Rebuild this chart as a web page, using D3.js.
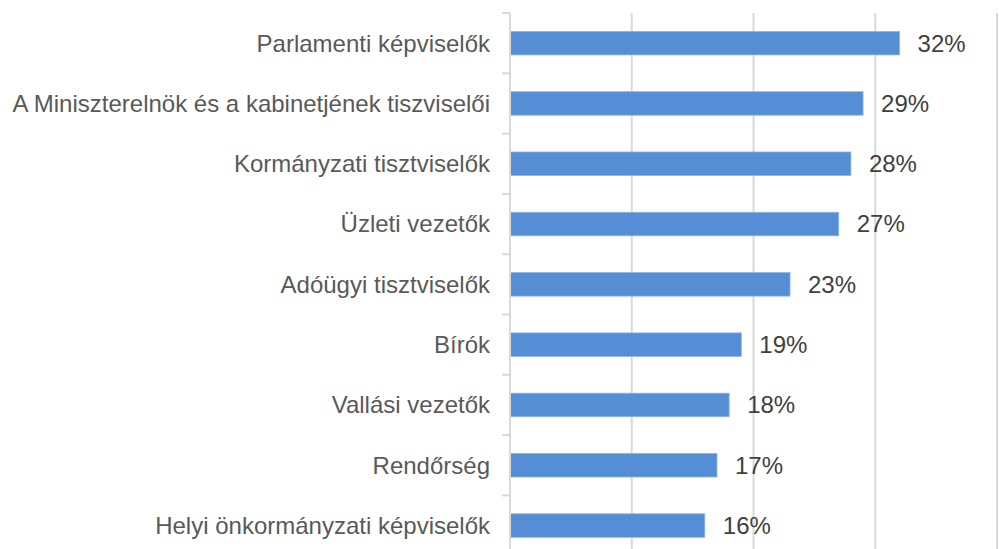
<!DOCTYPE html>
<html>
<head>
<meta charset="utf-8">
<script src="https://cdn.jsdelivr.net/npm/d3@7"></script>
<style>
  body { margin: 0; background: #fff; }
  svg { display: block; font-family: "Liberation Sans", Arial, sans-serif; }
</style>
</head>
<body>
<div id="chart"></div>
<script>
'use strict'

// categories, top to bottom
const categories = [
    'Parlamenti képviselők',
    'A Miniszterelnök és a kabinetjének tiszviselői',
    'Kormányzati tisztviselők',
    'Üzleti vezetők',
    'Adóügyi tisztviselők',
    'Bírók',
    'Vallási vezetők',
    'Rendőrség',
    'Helyi önkormányzati képviselők'
]
const values = [32, 29, 28, 27, 23, 19, 18, 17, 16]
const gridTicks = [10, 20, 30, 40]

const svgWidth = 999, svgHeight = 549
const margin = {left: 510, top: 13}

const svg = d3.select('#chart').append('svg')
    .attr('width', svgWidth)
    .attr('height', svgHeight)

// scales
const x = d3.scaleLinear().domain([0, 40]).range([margin.left, margin.left + 487])
const y = d3.scaleBand().domain(categories)
    .range([margin.top, margin.top + 60.3 * categories.length])
    .paddingInner(0.61).paddingOuter(0.305)

// gridlines
svg.append('g').selectAll('line')
    .data(gridTicks)
    .join('line')
    .attr('x1', d => x(d)).attr('x2', d => x(d))
    .attr('y1', margin.top).attr('y2', svgHeight + 10)
    .attr('stroke', '#d9d9d9')
    .attr('stroke-width', 2)

// bars
svg.append('g').selectAll('rect')
    .data(categories)
    .join('rect')
    .attr('x', x(0))
    .attr('y', d => y(d))
    .attr('width', (d, i) => x(values[i]) - x(0))
    .attr('height', y.bandwidth())
    .attr('fill', '#558ed5')
    .attr('stroke', '#8cb4e6')
    .attr('stroke-width', 0.8)

// category axis with tick marks at band boundaries
const step = y.step()
const bounds = d3.range(categories.length + 1).map(i => margin.top + i * step)
const axis = svg.append('g')
axis.append('line')
    .attr('x1', x(0)).attr('x2', x(0))
    .attr('y1', margin.top).attr('y2', svgHeight + 10)
    .attr('stroke', '#d9d9d9').attr('stroke-width', 2)
axis.selectAll('.tick')
    .data(bounds)
    .join('line')
    .attr('class', 'tick')
    .attr('x1', x(0) - 8).attr('x2', x(0))
    .attr('y1', d => d).attr('y2', d => d)
    .attr('stroke', '#d9d9d9').attr('stroke-width', 2)

// category labels
svg.append('g').selectAll('text')
    .data(categories)
    .join('text')
    .attr('x', 490)
    .attr('y', d => y(d) + y.bandwidth() / 2)
    .attr('dy', '0.35em')
    .attr('text-anchor', 'end')
    .attr('font-size', 24)
    .attr('fill', '#595959')
    .text(d => d)

// value labels
svg.append('g').selectAll('text')
    .data(categories)
    .join('text')
    .attr('x', (d, i) => x(values[i]) + 18)
    .attr('y', d => y(d) + y.bandwidth() / 2)
    .attr('dy', '0.35em')
    .attr('font-size', 24)
    .attr('fill', '#404040')
    .text((d, i) => values[i] + '%')
</script>
</body>
</html>
